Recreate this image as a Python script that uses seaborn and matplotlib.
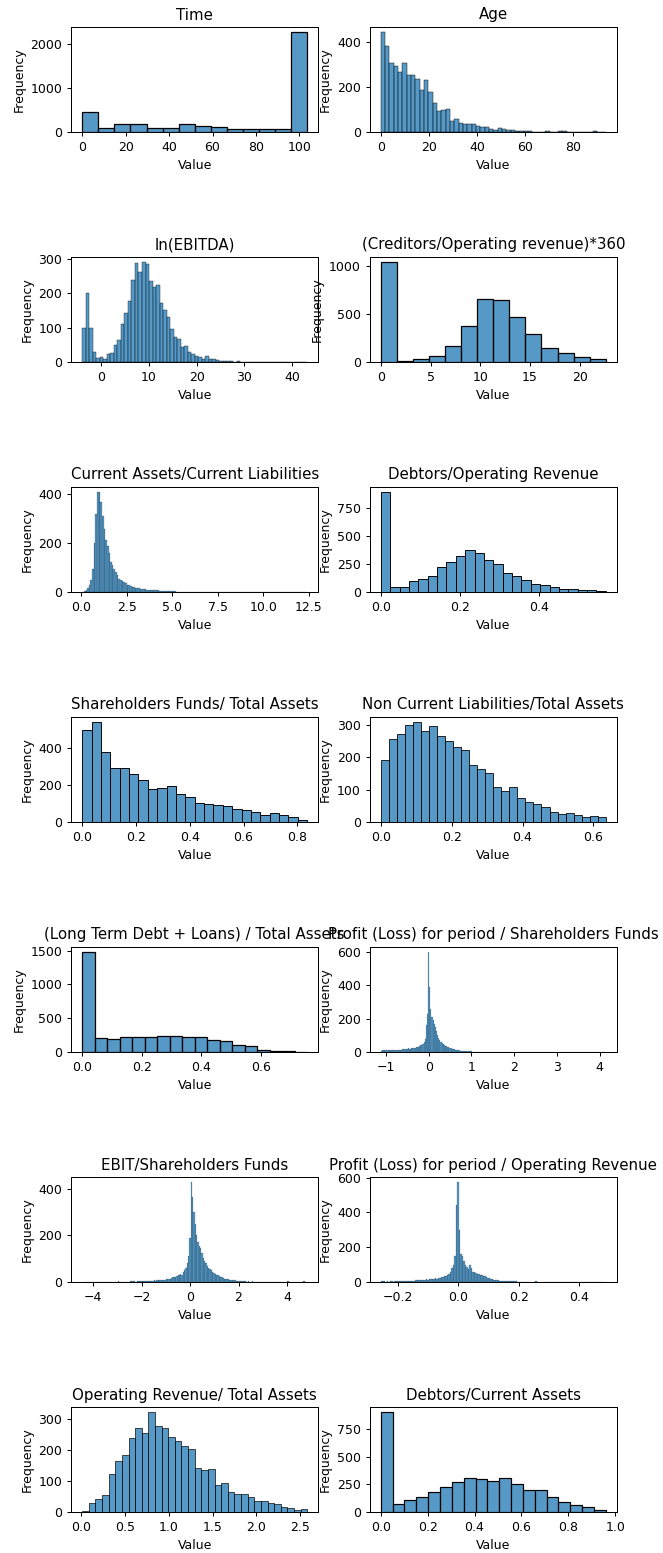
import numpy as np
import pandas as pd
import matplotlib
matplotlib.use("Agg")
import matplotlib.pyplot as plt
import seaborn as sns

# ---------------- data (histogram bin counts) ----------------
titles = [
    "Time", "Age", "ln(EBITDA)", "(Creditors/Operating revenue)*360",
    "Current Assets/Current Liabilities", "Debtors/Operating Revenue",
    "Shareholders Funds/ Total Assets", "Non Current Liabilities/Total Assets",
    "(Long Term Debt + Loans) / Total Assets", "Profit (Loss) for period / Shareholders Funds",
    "EBIT/Shareholders Funds", "Profit (Loss) for period / Operating Revenue",
    "Operating Revenue/ Total Assets", "Debtors/Current Assets",
]

time_range = (0.0, 103.6)
time_counts = [453, 98, 174, 174, 98, 98, 174, 136, 121, 75, 75, 75, 75, 2264]

age_range = (0.0, 93.6)
age_counts = [444, 382, 307, 295, 267, 307, 252, 252, 235, 188,
              232, 178, 130, 93, 96, 104, 49, 56, 40, 35,
              35, 35, 28, 20, 22, 14, 10, 18, 15, 10,
              8, 5, 4, 4, 3, 1, 1, 0, 5, 1,
              0, 5, 5, 1, 0, 1, 0, 0, 0, 5,
              0, 2]

ebitda_range = (-4.0, 43.2)
ebitda_counts = [98, 200, 98, 30, 12, 14, 8, 22, 27, 48,
                 63, 110, 143, 178, 238, 288, 260, 290, 283, 236,
                 218, 222, 172, 150, 130, 95, 73, 68, 43, 45,
                 30, 22, 18, 15, 10, 16, 10, 8, 5, 4,
                 3, 2, 2, 1, 3, 1, 0, 1, 0, 0,
                 0, 0, 0, 0, 0, 1, 0, 0, 0, 0,
                 0, 0, 0, 1]

creditors_range = (0.0, 22.6)
creditors_counts = [1045, 7, 28, 67, 172, 379, 656, 646, 467, 295, 151, 91, 49, 28]

cacl_range = (0.07, 12.4)
cacl_counts = [2, 5, 10, 15, 28, 50, 95, 200, 320, 410,
               410, 370, 310, 260, 215, 190, 160, 125, 110, 95,
               80, 68, 55, 50, 45, 40, 35, 30, 28, 25,
               22, 20, 18, 16, 15, 14, 12, 12, 11, 10,
               10, 9, 9, 8, 8, 7, 7, 6, 6, 5,
               5, 5, 4, 4, 5, 3, 3, 2, 2, 2,
               1, 2, 1, 2, 1, 0, 2, 1, 0, 1,
               1, 0, 1, 0, 0, 2, 0, 0, 0, 0,
               0, 0, 0, 0, 0, 0, 0, 0, 2, 0,
               0, 0, 0, 0, 0, 0, 0, 0, 0, 0,
               0, 0, 0, 0, 0, 0, 0, 0, 0, 0,
               0, 0, 0, 0, 0, 0, 0, 0, 0, 0,
               0, 0, 0, 0, 0, 0, 0, 0, 0, 0,
               0, 0, 0, 0, 0, 0, 1]

debtors_or_range = (0.0, 0.57)
debtors_or_counts = [893, 45, 45, 100, 115, 140, 225, 272, 320, 373,
                     350, 285, 248, 170, 140, 107, 70, 63, 45, 30,
                     25, 18, 15, 8]

sf_ta_range = (0.0, 0.837)
sf_ta_counts = [497, 539, 378, 292, 292, 261, 226, 179, 184, 194,
                150, 135, 102, 99, 89, 84, 69, 66, 55, 40,
                46, 40, 29, 9]

ncl_ta_range = (0.0, 0.635)
ncl_ta_counts = [192, 258, 272, 300, 310, 283, 297, 268, 252, 233,
                 222, 178, 165, 152, 108, 95, 108, 75, 62, 57,
                 48, 30, 25, 28, 22, 17, 20, 17]

ltd_range = (0.0, 0.755)
ltd_counts = [1480, 205, 190, 215, 228, 215, 240, 240, 228, 218,
              178, 165, 110, 95, 35, 20, 10, 3]

profit_sf_range = (-1.12, 4.14)
profit_sf_counts = [8, 10, 12, 12, 14, 12, 13, 12, 14, 12,
                    10, 13, 12, 14, 12, 15, 13, 12, 14, 18,
                    16, 20, 18, 19, 22, 20, 18, 24, 22, 25,
                    26, 28, 30, 32, 35, 40, 45, 50, 60, 80,
                    160, 230, 600, 390, 260, 210, 190, 170, 150, 125,
                    105, 85, 75, 62, 55, 48, 42, 38, 35, 32,
                    28, 25, 22, 20, 18, 16, 14, 12, 12, 10,
                    9, 8, 8, 7, 6, 6, 5, 5, 4, 4,
                    5, 3, 3, 3, 2, 3, 2, 2, 1, 2,
                    1, 1, 2, 1, 0, 1, 0, 1, 0, 1,
                    2, 0, 0, 1, 0, 0, 0, 1, 0, 0,
                    0, 0, 1, 0, 0, 0, 0, 0, 0, 0,
                    0, 0, 0, 0, 0, 0, 0, 0, 0, 0,
                    0, 0, 0, 0, 1, 0, 0, 0, 0, 0,
                    0, 0, 0, 0, 0, 0, 0, 0, 0, 0,
                    0, 0, 0, 0, 0, 0, 0, 0, 0, 0,
                    0, 0, 0, 0, 0, 0, 1, 0, 0, 0,
                    0, 0, 0, 0, 0, 0, 0, 0, 0, 0,
                    0, 0, 0, 0, 0, 0, 0, 0, 0, 0,
                    0, 0, 0, 0, 0, 0, 0, 0, 0, 1]

ebit_sf_range = (-4.46, 4.84)
ebit_sf_counts = [1, 0, 0, 0, 1, 0, 0, 0, 0, 0,
                  0, 0, 0, 0, 0, 0, 0, 0, 0, 0,
                  0, 0, 0, 0, 0, 0, 0, 3, 0, 2,
                  0, 1, 0, 0, 2, 1, 3, 4, 3, 3,
                  2, 4, 3, 5, 4, 3, 4, 5, 4, 6,
                  5, 4, 6, 5, 7, 6, 7, 8, 7, 9,
                  8, 10, 9, 12, 11, 14, 13, 18, 20, 22,
                  22, 25, 28, 30, 35, 32, 45, 50, 60, 80,
                  110, 190, 430, 365, 300, 250, 200, 170, 155, 145,
                  125, 105, 90, 80, 70, 62, 55, 50, 45, 40,
                  36, 32, 28, 25, 22, 20, 18, 15, 14, 12,
                  11, 10, 10, 8, 7, 7, 6, 5, 5, 4,
                  5, 3, 4, 3, 2, 3, 2, 2, 3, 1,
                  2, 1, 2, 1, 1, 2, 1, 0, 1, 1,
                  0, 2, 1, 0, 1, 0, 1, 0, 2, 0,
                  0, 0, 1, 0, 0, 3, 2, 0, 0, 0,
                  0, 1, 0, 0, 0, 0, 0, 5, 0, 1]

profit_or_range = (-0.256, 0.488)
profit_or_counts = [5, 6, 3, 2, 3, 2, 4, 5, 2, 3,
                    4, 5, 3, 6, 4, 5, 6, 5, 7, 6,
                    5, 8, 7, 9, 10, 12, 11, 13, 14, 12,
                    15, 14, 16, 18, 17, 20, 22, 20, 25, 24,
                    28, 30, 32, 35, 40, 45, 60, 80, 100, 150,
                    440, 575, 300, 160, 150, 120, 100, 85, 75, 95,
                    80, 60, 55, 50, 48, 45, 40, 38, 35, 32,
                    28, 25, 22, 20, 16, 14, 12, 10, 9, 8,
                    7, 6, 6, 5, 5, 4, 4, 3, 3, 3,
                    4, 2, 2, 1, 1, 1, 1, 0, 1, 0,
                    1, 0, 0, 6, 0, 0, 0, 0, 0, 0,
                    0, 0, 1, 0, 0, 0, 0, 0, 0, 0,
                    0, 0, 0, 0, 0, 0, 0, 0, 0, 0,
                    0, 0, 0, 0, 0, 1, 0, 0, 0, 0,
                    0, 0, 0, 0, 0, 0, 0, 0, 0, 1]

or_ta_range = (0.01, 2.58)
or_ta_counts = [3, 30, 43, 56, 122, 164, 186, 239, 271, 255,
                324, 278, 271, 242, 229, 215, 204, 143, 137, 138,
                89, 93, 65, 57, 57, 49, 37, 35, 30, 27,
                15, 14, 6, 9]

debtors_ca_range = (0.0, 0.96)
debtors_ca_counts = [905, 70, 110, 140, 185, 222, 272, 308, 300, 285,
                     308, 250, 200, 195, 132, 92, 60, 45, 15]

panels = [
    (time_range, time_counts), (age_range, age_counts),
    (ebitda_range, ebitda_counts), (creditors_range, creditors_counts),
    (cacl_range, cacl_counts), (debtors_or_range, debtors_or_counts),
    (sf_ta_range, sf_ta_counts), (ncl_ta_range, ncl_ta_counts),
    (ltd_range, ltd_counts), (profit_sf_range, profit_sf_counts),
    (ebit_sf_range, ebit_sf_counts), (profit_or_range, profit_or_counts),
    (or_ta_range, or_ta_counts), (debtors_ca_range, debtors_ca_counts),
]

# ---------------- figure ----------------
W, H = 663, 1553
DPI = 90
fig, axes = plt.subplots(7, 2, figsize=(W / DPI, H / DPI), dpi=DPI)
fig.subplots_adjust(left=71 / W, right=617 / W, top=1 - 27 / H, bottom=1 - 1512 / H,
                    wspace=51 / 247, hspace=125 / 105)

for ax, title, (rng, counts) in zip(axes.flat, titles, panels):
    n = len(counts)
    edges = np.linspace(rng[0], rng[1], n + 1)
    df = pd.DataFrame({"Value": (edges[:-1] + edges[1:]) / 2,
                       "count": np.asarray(counts, dtype=float)})
    sns.histplot(data=df, x="Value", weights="count", bins=n, binrange=rng, ax=ax)
    ax.set_title(title)
    ax.set_xlabel("Value")
    ax.set_ylabel("Frequency")

fig.savefig("out.png", dpi=DPI)
